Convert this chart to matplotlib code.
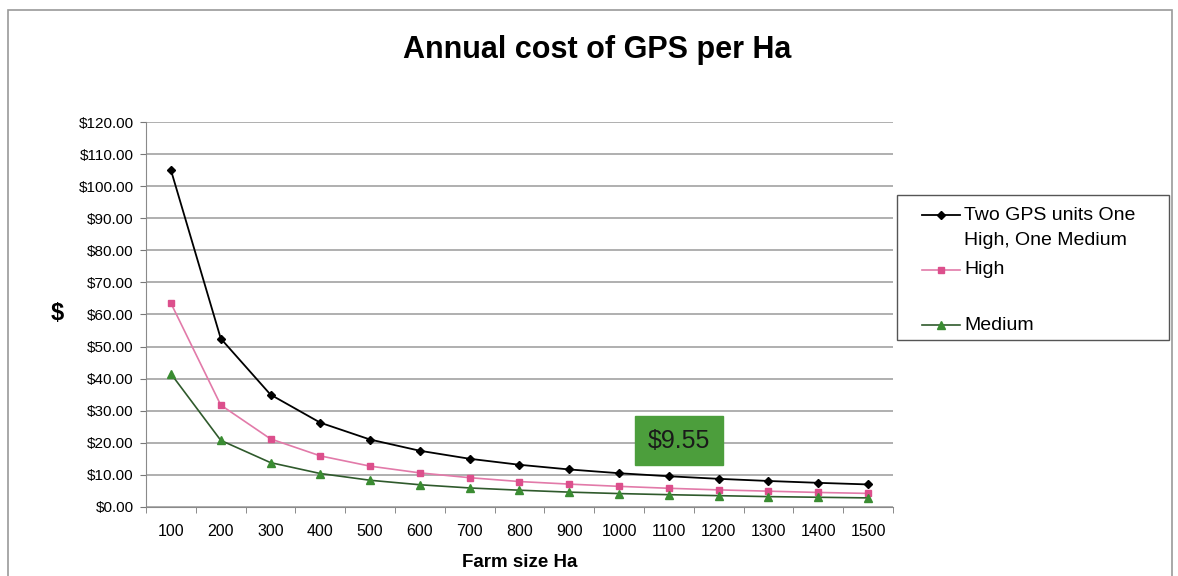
import matplotlib.pyplot as plt
import numpy as np
from matplotlib.lines import Line2D
from matplotlib.patches import Rectangle

plt.rcParams["font.family"] = ["Liberation Sans", "DejaVu Sans"]

FARM_SIZE = [100, 200, 300, 400, 500, 600, 700, 800, 900, 1000, 1100, 1200, 1300, 1400, 1500]
TWO_UNITS = [105.0, 52.5, 35.0, 26.25, 21.0, 17.5, 15.0, 13.13, 11.67, 10.5, 9.55, 8.75, 8.08, 7.5, 7.0]
HIGH = [63.5, 31.75, 21.2, 15.9, 12.7, 10.6, 9.1, 7.9, 7.1, 6.4, 5.8, 5.3, 4.9, 4.5, 4.2]
MEDIUM = [41.5, 20.75, 13.8, 10.4, 8.3, 6.9, 5.9, 5.2, 4.6, 4.15, 3.8, 3.5, 3.2, 3.0, 2.8]
YTICKS = list(range(0, 121, 10))
LABELS = ["Two GPS units One\nHigh, One Medium", "High", "Medium"]

W, H = 1178, 576
fig = plt.figure(figsize=(W / 100, H / 100), dpi=100)
fig.patches.append(Rectangle((0.007, -0.01), 0.988, 0.993, transform=fig.transFigure,
                             fill=False, edgecolor="#9a9a9a", linewidth=1.2))
ax = fig.add_axes([0.124, 0.120, 0.634, 0.668])

styles = [
    dict(color="black", marker="D", markersize=4.5, linewidth=1.3),
    dict(color="#e27aa9", marker="s", markersize=4.5, linewidth=1.2,
         markerfacecolor="#dc4f8c", markeredgecolor="#dc4f8c"),
    dict(color="#2f5a2c", marker="^", markersize=5.5, linewidth=1.2,
         markerfacecolor="#3a8c32", markeredgecolor="#3a8c32"),
]
x = np.arange(len(FARM_SIZE))
for ys, st, lab in zip([TWO_UNITS, HIGH, MEDIUM], styles, LABELS):
    ax.plot(x, ys, label=lab, **st)

ax.set_xlim(-0.5, len(FARM_SIZE) - 0.5)
ax.set_ylim(0, 120)
ax.set_yticks(YTICKS)
ax.set_yticklabels([f"${v:.2f}" for v in YTICKS], fontsize=11)
ax.set_xticks(x)
ax.set_xticklabels([str(v) for v in FARM_SIZE], fontsize=11.5)
ax.set_xticks(np.arange(-0.5, len(FARM_SIZE)), minor=True)
ax.tick_params(axis="x", which="major", length=0, pad=12)
ax.tick_params(axis="x", which="minor", length=4, direction="out", color="#777777")
ax.tick_params(axis="y", length=4, direction="out", color="#777777", pad=5)
ax.yaxis.grid(True, color="#9a9a9a", linewidth=1.1)
ax.set_axisbelow(True)
for s in ("top", "right"):
    ax.spines[s].set_visible(False)
for s in ("left", "bottom"):
    ax.spines[s].set_color("#8a8a8a")

ax.set_xlabel("Farm size Ha", fontsize=13.5, fontweight="bold", labelpad=11)
fig.text(57 / W, 1 - 313 / H, "$", fontsize=17, fontweight="bold", ha="center", va="center")
fig.text(597 / W, 1 - 50 / H, "Annual cost of GPS per Ha", ha="center", va="center",
         fontsize=22, fontweight="bold")

# highlighted value for 1100 Ha
ax.text(10.2, 20.6, f"${TWO_UNITS[FARM_SIZE.index(1100)]:.2f}", ha="center", va="center",
        fontsize=18, color="#1a1a1a",
        bbox=dict(boxstyle="square,pad=0.5", facecolor="#4c9e3c", edgecolor="#4c9e3c"))

# Excel-style legend box
fig.patches.append(Rectangle((897 / W, 1 - 340 / H), 272 / W, 145 / H, transform=fig.transFigure,
                             fill=False, edgecolor="#555555", linewidth=1.0))
entries = [(215, 240), (270, None), (325, None)]
for (y1, y2), st, lab in zip(entries, styles, LABELS):
    yf = 1 - y1 / H
    fig.lines.append(Line2D([922 / W, 941 / W, 960 / W], [yf, yf, yf], markevery=[1],
                            transform=fig.transFigure, **st))
    lines = lab.split("\n")
    fig.text(964 / W, yf, lines[0], fontsize=14, ha="left", va="center")
    if y2 is not None:
        fig.text(964 / W, 1 - y2 / H, lines[1], fontsize=14, ha="left", va="center")

fig.savefig("out.png", dpi=100)
